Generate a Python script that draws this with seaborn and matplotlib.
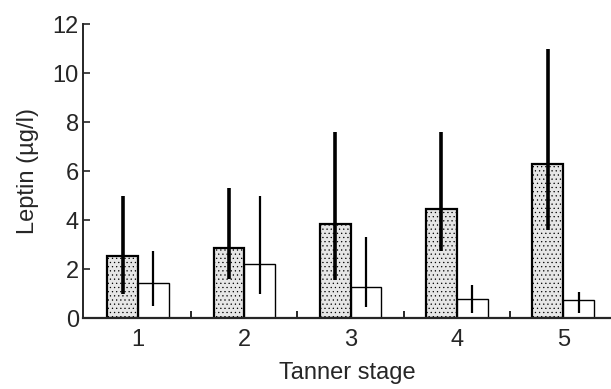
import pandas as pd
import matplotlib
matplotlib.use('Agg')
import matplotlib.pyplot as plt
import seaborn as sns

# values
stages = ['1', '2', '3', '4', '5']
groups = ['A', 'B']
gray_mean = [2.53, 2.86, 3.83, 4.45, 6.3]
gray_low = [1.0, 1.59, 1.55, 2.73, 3.6]
gray_high = [5.0, 5.3, 7.6, 7.6, 10.97]
white_mean = [1.43, 2.2, 1.26, 0.78, 0.73]
white_low = [0.49, 1.0, 0.45, 0.2, 0.2]
white_high = [2.73, 5.0, 3.3, 1.35, 1.06]

df = pd.DataFrame({
    'stage': stages * 2,
    'group': ['A'] * 5 + ['B'] * 5,
    'leptin': gray_mean + white_mean,
})

sns.set_style('ticks')
plt.rcParams['font.family'] = ['Liberation Sans', 'DejaVu Sans']
plt.rcParams['hatch.color'] = '#9a9a9a'
plt.rcParams['hatch.linewidth'] = 0.4

fig = plt.figure(figsize=(6.11, 3.89), dpi=100)
ax = fig.add_axes([0.136, 0.1825, 0.864, 0.7555])

sns.barplot(data=df, x='stage', y='leptin', hue='group', hue_order=groups,
            palette=['#e6e6e6', 'white'], errorbar=None, width=0.58,
            gap=0, edgecolor='black', ax=ax, legend=False)

# stipple texture on the gray bars, thicker outline
for p in ax.containers[0]:
    p.set_hatch('....')
    p.set_linewidth(1.6)
    p.set_edgecolor('black')
for p in ax.containers[1]:
    p.set_linewidth(1.0)

# range bars
for cont, lo, hi, lw in [(ax.containers[0], gray_low, gray_high, 2.6),
                         (ax.containers[1], white_low, white_high, 1.6)]:
    for p, l, h in zip(cont, lo, hi):
        xc = p.get_x() + p.get_width() / 2
        ax.vlines(xc, l, h, color='black', linewidth=lw, zorder=5)

ax.set_ylim(0, 12)
ax.set_xlim(-0.517, 4.45)
ax.set_yticks(range(0, 13, 2))
ax.set_xticks([0.5, 1.5, 2.5, 3.5], minor=True)
ax.tick_params(axis='x', which='major', length=0, labelsize=17, pad=8)
ax.tick_params(axis='x', which='minor', direction='in', length=5, width=1.4)
ax.tick_params(axis='y', direction='in', length=5, width=1.2, labelsize=17, pad=3)

sns.despine(ax=ax)
ax.spines['left'].set_linewidth(1.4)
ax.spines['bottom'].set_linewidth(1.6)

ax.set_xlabel('Tanner stage', fontsize=17, labelpad=8)
ax.set_ylabel('Leptin (\u00b5g/l)', fontsize=17, labelpad=10)

fig.savefig('out.png', dpi=100)
